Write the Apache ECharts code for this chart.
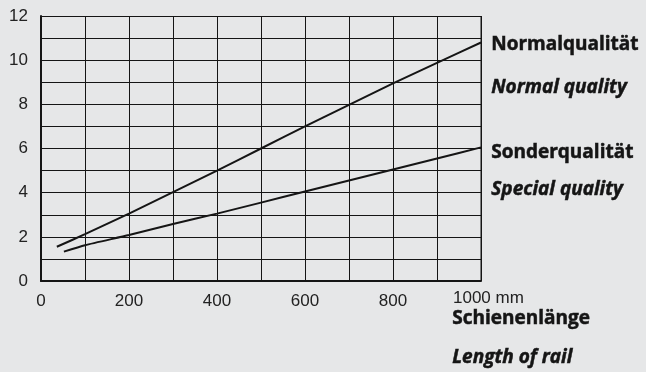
<!DOCTYPE html>
<html>
<head>
<meta charset="utf-8">
<script src="https://cdn.jsdelivr.net/npm/echarts@6/dist/echarts.min.js"></script>
<style>
  html, body { margin: 0; padding: 0; background: #e6e7e8; }
  #chart { width: 646px; height: 372px; }
</style>
</head>
<body>
<div id="chart"></div>
<script>
// Schienenlänge in mm
const normalX = [36, 100, 200, 300, 400, 500, 600, 700, 800, 900, 1000]
const normalY = [1.55, 2.12, 3.05, 4.02, 5.0, 6.0, 7.0, 7.98, 8.95, 9.88, 10.8]
const specialX = [52, 100, 200, 300, 400, 500, 600, 700, 800, 900, 1000]
const specialY = [1.33, 1.62, 2.08, 2.58, 3.05, 3.55, 4.05, 4.55, 5.05, 5.55, 6.05]

const xTicks = [0, 200, 400, 600, 800]
const yTicks = [0, 2, 4, 6, 8, 10, 12]

const labelsRight = [
  { text: 'Normalqualität', y: 48, italic: false },
  { text: 'Normal quality', y: 91, italic: true },
  { text: 'Sonderqualität', y: 156, italic: false },
  { text: 'Special quality', y: 193, italic: true }
]

const chart = echarts.init(document.getElementById('chart'))

const ink = '#151515'
const font = '"Liberation Sans", Arial, sans-serif'
const titleFont = '"Open Sans", Lato, sans-serif'

const zip = (xs, ys) => xs.map((x, i) => [x, ys[i]])

const textEl = (text, x, y, size, italic) => ({
  type: 'text',
  left: x,
  top: y,
  style: {
    text: text,
    fill: ink,
    stroke: ink,
    lineWidth: 0.5,
    font: (italic ? 'italic ' : '') + 'bold ' + size + 'px ' + titleFont
  }
})

chart.setOption({
  backgroundColor: '#e6e7e8',
  animation: false,
  grid: { left: 41, right: 165, top: 16, bottom: 91 },
  xAxis: {
    type: 'value',
    min: 0,
    max: 1000,
    interval: 100,
    axisLine: { show: true, lineStyle: { color: ink, width: 2 } },
    axisTick: { show: false },
    axisLabel: {
      color: '#222',
      fontFamily: font,
      fontSize: 17,
      margin: 12,
      formatter: (v) => (xTicks.includes(v) ? String(v) : '')
    },
    splitLine: { show: true, lineStyle: { color: ink, width: 1 } }
  },
  yAxis: {
    type: 'value',
    min: 0,
    max: 12,
    interval: 1,
    axisLine: { show: true, lineStyle: { color: ink, width: 2 } },
    axisTick: { show: false },
    axisLabel: {
      color: '#222',
      fontFamily: font,
      fontSize: 17,
      margin: 13,
      formatter: (v) => (yTicks.includes(v) ? String(v) : '')
    },
    splitLine: { show: true, lineStyle: { color: ink, width: 1 } }
  },
  series: [
    {
      name: 'Normalqualität',
      type: 'line',
      data: zip(normalX, normalY),
      showSymbol: false,
      smooth: 0.2,
      lineStyle: { color: ink, width: 2 }
    },
    {
      name: 'Sonderqualität',
      type: 'line',
      data: zip(specialX, specialY),
      showSymbol: false,
      smooth: 0.2,
      lineStyle: { color: ink, width: 2 }
    }
  ],
  graphic: [
    // rechter Rand des Diagramms
    {
      type: 'line',
      shape: { x1: 481, y1: 16, x2: 481, y2: 281 },
      style: { stroke: ink, lineWidth: 1 }
    },
    ...labelsRight.map((l) => textEl(l.text, 491, l.y - 13, 19, l.italic)),
    {
      type: 'text',
      left: 453,
      top: 290,
      style: { text: '1000 mm', fill: '#222', font: '17px ' + font }
    },
    textEl('Schienenlänge', 452, 309, 19, false),
    textEl('Length of rail', 452, 348, 19, true)
  ]
})
</script>
</body>
</html>
